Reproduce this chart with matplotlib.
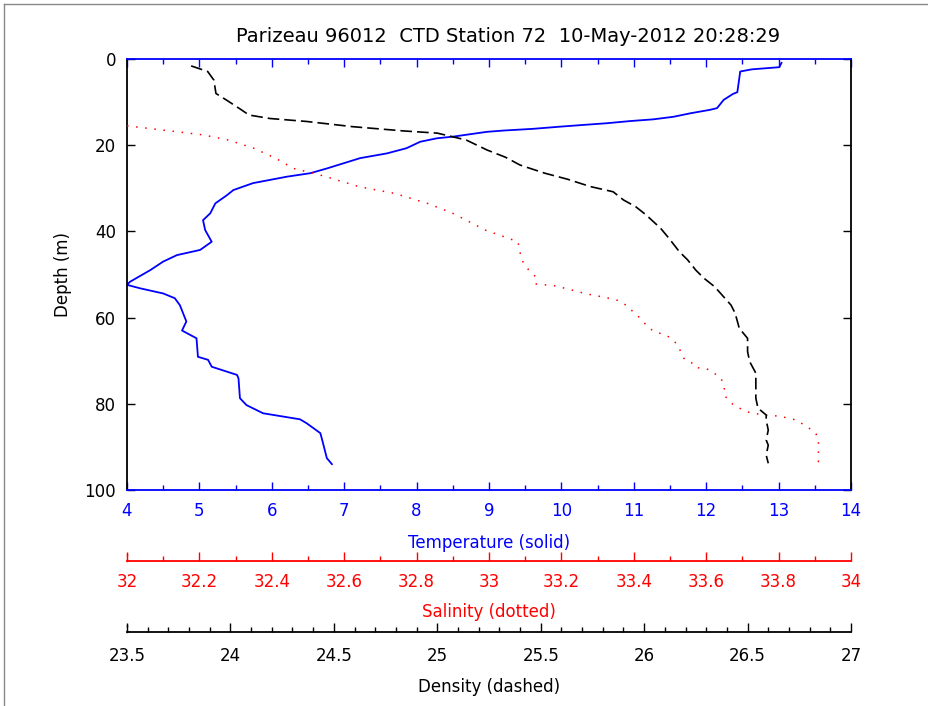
import numpy as np
import matplotlib
matplotlib.use("Agg")
import matplotlib.pyplot as plt
from matplotlib.lines import Line2D
from matplotlib.ticker import MultipleLocator

plt.rcParams['font.family'] = ['DejaVu Sans']

# temperature profile (degC vs depth m)
temp_depth = [0.9, 1.9, 2.4, 2.9, 7.7, 8.1, 9.5, 11.4, 11.8, 12.6, 13.4, 14.0, 14.4, 14.9,
              15.3, 15.7, 16.2, 16.6, 16.9, 18.0, 18.4, 19.2, 20.7, 21.9, 23.0, 25.4, 26.5,
              27.3, 28.8, 30.4, 31.6, 33.5, 35.8, 37.4, 39.7, 42.4, 44.3, 45.5, 47.0, 49.0,
              51.7, 52.4, 53.2, 54.4, 55.5, 57.1, 60.9, 63.0, 64.8, 69.1, 69.8, 71.4, 73.3,
              74.1, 78.7, 80.3, 82.2, 83.6, 84.5, 86.8, 88.0, 92.6, 94.0]
temp = [13.04, 13.01, 12.63, 12.47, 12.43, 12.37, 12.24, 12.15, 12.05, 11.78, 11.55, 11.27,
        10.95, 10.63, 10.30, 9.98, 9.61, 9.20, 8.97, 8.51, 8.28, 8.05, 7.86, 7.59, 7.22,
        6.76, 6.53, 6.21, 5.74, 5.47, 5.38, 5.22, 5.15, 5.05, 5.08, 5.17, 5.01, 4.69, 4.50,
        4.32, 4.04, 4.00, 4.18, 4.50, 4.66, 4.73, 4.82, 4.76, 4.96, 4.98, 5.12, 5.17, 5.52,
        5.54, 5.56, 5.65, 5.88, 6.39, 6.48, 6.67, 6.69, 6.76, 6.83]

# salinity profile
sal_depth = [15.5, 16.1, 16.9, 17.6, 18.8, 20.7, 23.0, 25.4, 26.4, 27.3, 29.6, 31.2, 33.5,
             35.8, 39.7, 42.4, 46.6, 49.0, 50.6, 52.2, 52.6, 53.4, 54.5, 55.3, 56.1, 57.2,
             58.8, 60.3, 62.3, 63.4, 63.8, 64.6, 66.2, 69.7, 70.5, 71.6, 71.8, 72.8, 73.9,
             76.0, 78.0, 79.9, 80.9, 81.8, 82.2, 82.6, 82.8, 82.8, 83.4, 83.8, 84.9, 86.5,
             88.0, 90.0, 91.9, 93.4, 93.4]
sal = [32.0, 32.06, 32.14, 32.21, 32.28, 32.35, 32.41, 32.46, 32.51, 32.55, 32.64, 32.74,
       32.83, 32.90, 32.99, 33.08, 33.09, 33.11, 33.13, 33.13, 33.18, 33.22, 33.27, 33.32,
       33.36, 33.38, 33.40, 33.42, 33.44, 33.46, 33.48, 33.50, 33.52, 33.54, 33.56, 33.57,
       33.60, 33.62, 33.64, 33.65, 33.65, 33.67, 33.69, 33.71, 33.73, 33.76, 33.78, 33.80,
       33.83, 33.85, 33.87, 33.90, 33.91, 33.91, 33.91, 33.91, 33.92]

# density (sigma-t) profile
dens_depth = [1.6, 2.9, 4.9, 8.0, 9.5, 11.7, 13.0, 13.8, 14.5, 15.7, 16.7, 17.2, 18.8, 21.1,
              22.8, 24.6, 25.4, 26.5, 27.9, 29.6, 30.8, 32.7, 34.3, 36.2, 39.3, 41.6, 44.7,
              46.6, 49.0, 50.9, 52.8, 54.4, 57.1, 59.0, 62.5, 64.8, 67.9, 70.2, 72.9, 78.7,
              81.0, 82.6, 83.8, 86.1, 88.4, 89.6, 91.9, 93.8]
dens = [23.81, 23.89, 23.92, 23.93, 23.98, 24.05, 24.09, 24.19, 24.37, 24.59, 24.84, 25.00,
        25.14, 25.24, 25.33, 25.40, 25.45, 25.52, 25.63, 25.74, 25.85, 25.90, 25.96, 26.01,
        26.08, 26.12, 26.17, 26.21, 26.25, 26.29, 26.34, 26.37, 26.42, 26.44, 26.46, 26.50,
        26.50, 26.51, 26.54, 26.54, 26.55, 26.59, 26.59, 26.60, 26.59, 26.60, 26.59, 26.60]

title = "Parizeau 96012  CTD Station 72  10-May-2012 20:28:29"
BLUE = '#0000ff'
RED = '#ff0000'
FS = 12

W, H = 929, 706
fig = plt.figure(figsize=(W / 100, H / 100), dpi=100)

# plot box in pixels
x0, x1, y0, y1 = 127, 851, 59, 490
def fx(px):
    return px / W
def fy(py):
    return 1 - py / H

ax = fig.add_axes([fx(x0), fy(y1), fx(x1) - fx(x0), fy(y0) - fy(y1)])
ax.set_xlim(4, 14)
ax.set_ylim(100, 0)

# temperature axis (bottom + top)
ax.plot(temp, temp_depth, color=BLUE, lw=1.3)
ax.xaxis.set_major_locator(MultipleLocator(1))
ax.xaxis.set_minor_locator(MultipleLocator(0.5))
ax.tick_params(axis='x', which='both', direction='in', top=True, colors=BLUE,
               labelsize=FS, pad=9)
ax.tick_params(axis='x', which='major', length=6, width=1)
ax.tick_params(axis='x', which='minor', length=3.5, width=1)
ax.spines['bottom'].set_color(BLUE)
ax.spines['top'].set_color(BLUE)
for s in ('left', 'right'):
    ax.spines[s].set_color('black')
    ax.spines[s].set_linewidth(1.3)
ax.spines['bottom'].set_linewidth(1.3)
ax.spines['top'].set_linewidth(1.3)

ax.yaxis.set_major_locator(MultipleLocator(20))
ax.tick_params(axis='y', which='major', direction='in', right=True, length=6,
               width=1, labelsize=FS, pad=8)
ax.set_ylabel("Depth (m)", fontsize=FS, labelpad=9)
ax.set_xlabel("Temperature (solid)", fontsize=FS, color=BLUE, labelpad=10)
ax.set_title(title, fontsize=14, pad=12, x=0.526)

# salinity and density drawn on overlaid axes with their own x ranges
axs = fig.add_axes(ax.get_position(), frameon=False)
axs.set_xlim(32, 34)
axs.set_ylim(100, 0)
axs.plot(sal, sal_depth, color=RED, lw=1.1, linestyle=(0, (1, 5)))
axs.set_xticks([])
axs.set_yticks([])

axd = fig.add_axes(ax.get_position(), frameon=False)
axd.set_xlim(23.5, 27)
axd.set_ylim(100, 0)
axd.plot(dens, dens_depth, color='black', lw=1.2, linestyle=(0, (7, 3)))
axd.set_xticks([])
axd.set_yticks([])

# separate scale bars for salinity and density
def scale_axis(ypix, lo, hi, major, minor, color, label, fmt, pad, labelpad):
    a = fig.add_axes([fx(x0), fy(ypix), fx(x1) - fx(x0), 7 / H])
    a.set_xlim(lo, hi)
    for s in ('top', 'right'):
        a.spines[s].set_visible(False)
    a.spines['left'].set_color(color)
    a.spines['left'].set_linewidth(1)
    a.spines['left'].set_linestyle((0, (1, 3)))
    a.spines['bottom'].set_color(color)
    a.spines['bottom'].set_linewidth(1.3)
    a.set_yticks([])
    ticks = np.arange(lo, hi + major / 2, major)
    a.set_xticks(ticks)
    a.xaxis.set_minor_locator(MultipleLocator(minor))
    a.set_xticklabels([fmt(v) for v in ticks])
    a.tick_params(axis='x', which='both', direction='in', colors=color,
                  labelsize=FS, pad=pad)
    a.tick_params(axis='x', which='major', length=6.5, width=1)
    a.tick_params(axis='x', which='minor', length=3.8, width=1)
    a.set_xlabel(label, fontsize=FS, color=color, labelpad=labelpad)
    a.patch.set_visible(False)
    return a

def g(v):
    return ('%.1f' % v).rstrip('0').rstrip('.')

scale_axis(561, 32, 34, 0.2, 0.1, RED, "Salinity (dotted)", g, 8.5, 9)
scale_axis(632, 23.5, 27, 0.5, 0.1, 'black', "Density (dashed)", g, 11, 9)

# thin gray frame at top/left of the image
fig.add_artist(Line2D([fx(4), 1], [fy(4), fy(4)], color='#888888', lw=1))
fig.add_artist(Line2D([fx(4), fx(4)], [fy(4), 0], color='#888888', lw=1))

fig.savefig("out.png", dpi=100)
